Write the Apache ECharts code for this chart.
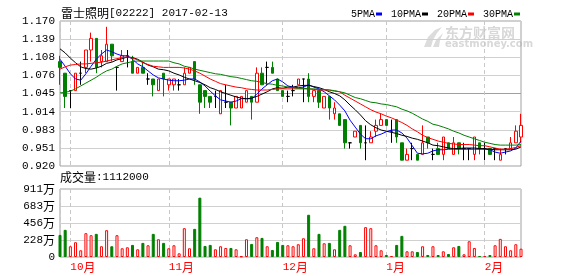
<!DOCTYPE html>
<html><head><meta charset="utf-8">
<script src="https://cdn.jsdelivr.net/npm/echarts@6/dist/echarts.min.js"></script>
<style>html,body{margin:0;padding:0;background:#fff}#c{width:578px;height:276px}</style>
</head><body><div id="c"></div>
<script>
const stockName = '雷士照明';
const stockCode = '[02222]';
const titleDate = '2017-02-13';
const volumeTitle = '成交量';

const dates = ['09-29','09-30',
 '10-03','10-04','10-05','10-06','10-07','10-11','10-12','10-13','10-14','10-17','10-18','10-19','10-20','10-24','10-25','10-26','10-27','10-28','10-31',
 '11-01','11-02','11-03','11-04','11-07','11-08','11-09','11-10','11-11','11-14','11-15','11-16','11-17','11-18','11-21','11-22','11-23','11-24','11-25','11-28','11-29','11-30',
 '12-01','12-02','12-05','12-06','12-07','12-08','12-09','12-12','12-13','12-14','12-15','12-16','12-19','12-20','12-21','12-22','12-23','12-28','12-29','12-30',
 '01-03','01-04','01-05','01-06','01-09','01-10','01-11','01-12','01-13','01-16','01-17','01-18','01-19','01-20','01-23','01-24','01-25','01-26','01-27',
 '02-01','02-02','02-03','02-06','02-07','02-08','02-09','02-10'];

const open = [1.10,1.08,1.05,1.05,1.08,1.09,1.12,1.14,1.10,1.10,
 1.13,1.09,1.10,1.11,1.10,1.08,1.09,1.07,1.07,1.05,
 1.08,1.06,1.06,1.06,1.06,1.08,1.10,1.06,1.05,1.04,
 1.04,1.01,1.03,1.03,1.02,1.02,1.03,1.04,1.03,1.08,
 1.09,1.09,1.07,1.05,1.04,1.05,1.06,1.07,1.07,1.04,
 1.05,1.02,1.04,1.01,1.01,1.00,0.96,0.97,0.99,0.96,
 0.96,0.98,0.99,1.00,0.98,1.00,0.96,0.93,0.95,0.94,
 0.94,0.97,0.94,0.95,0.94,0.96,0.94,0.96,0.95,0.95,
 0.94,0.96,0.95,0.95,0.95,0.93,0.95,0.95,0.96,0.97];
const close = [1.09,1.04,1.05,1.08,1.08,1.12,1.14,1.09,1.11,1.13,
 1.11,1.09,1.11,1.11,1.08,1.09,1.08,1.07,1.06,1.07,
 1.07,1.07,1.07,1.06,1.08,1.09,1.07,1.03,1.04,1.03,
 1.04,1.05,1.03,1.02,1.04,1.04,1.05,1.03,1.08,1.06,
 1.09,1.08,1.05,1.04,1.04,1.05,1.07,1.07,1.04,1.05,
 1.03,1.04,1.02,1.02,0.99,0.96,0.96,0.98,0.96,0.96,
 0.97,0.99,1.00,0.99,0.98,0.97,0.93,0.94,0.95,0.93,
 0.96,0.96,0.94,0.94,0.97,0.95,0.96,0.95,0.95,0.95,
 0.97,0.95,0.95,0.94,0.95,0.94,0.95,0.96,0.98,0.99];
const low = [1.06,1.02,1.02,1.05,1.06,1.08,1.10,1.08,1.09,1.10,
 1.10,1.05,1.10,1.09,1.08,1.08,1.08,1.06,1.04,1.05,
 1.04,1.05,1.05,1.05,1.06,1.08,1.06,1.01,1.02,1.02,
 1.02,1.01,1.02,0.99,1.02,1.02,1.03,1.00,1.03,1.06,
 1.06,1.08,1.05,1.04,1.03,1.04,1.06,1.03,1.03,1.03,
 1.02,1.02,1.00,1.00,0.99,0.95,0.95,0.97,0.95,0.93,
 0.96,0.97,0.99,0.99,0.96,0.96,0.93,0.93,0.93,0.93,
 0.94,0.95,0.93,0.94,0.93,0.95,0.94,0.94,0.93,0.93,
 0.93,0.94,0.93,0.94,0.93,0.93,0.94,0.95,0.96,0.96];
const high = [1.11,1.08,1.05,1.08,1.10,1.12,1.15,1.14,1.12,1.16,
 1.13,1.09,1.12,1.12,1.11,1.09,1.10,1.08,1.07,1.07,
 1.08,1.07,1.07,1.07,1.09,1.09,1.10,1.06,1.05,1.04,
 1.05,1.05,1.06,1.03,1.04,1.04,1.05,1.04,1.09,1.09,
 1.10,1.10,1.07,1.05,1.05,1.06,1.07,1.07,1.08,1.05,
 1.05,1.04,1.04,1.03,1.01,1.00,0.96,0.98,0.99,0.99,
 0.98,1.00,1.01,1.00,1.00,1.00,0.96,0.95,0.96,0.94,
 0.99,0.97,0.95,0.96,0.97,0.96,0.97,0.96,0.96,0.95,
 0.97,0.96,0.96,0.95,0.95,0.95,0.95,0.97,0.99,1.01];

// volume in 万股
const volume = [296,364,144,198,90,319,292,310,144,359,
 144,292,117,130,162,103,189,157,310,238,
 189,117,157,49,386,117,377,795,148,162,
 103,144,121,121,103,9,238,175,265,256,
 144,94,202,162,157,144,171,251,566,117,
 310,184,189,103,364,418,157,36,67,400,
 386,157,90,27,13,162,283,76,76,67,
 144,27,144,27,76,40,130,148,36,211,
 121,13,13,27,157,243,144,90,171,111.2];

const ma5 = [1.104,1.092,1.079,1.070,1.068,1.079,1.092,1.104,1.113,1.120,
 1.117,1.113,1.110,1.110,1.104,1.096,1.091,1.084,1.077,1.072,
 1.070,1.068,1.067,1.067,1.068,1.070,1.070,1.065,1.058,1.049,
 1.041,1.034,1.032,1.030,1.032,1.036,1.036,1.036,1.044,1.053,
 1.060,1.067,1.070,1.065,1.058,1.056,1.055,1.056,1.060,1.056,
 1.053,1.048,1.041,1.034,1.025,1.015,0.999,0.987,0.975,0.967,
 0.967,0.972,0.975,0.979,0.982,0.982,0.977,0.968,0.955,0.942,
 0.941,0.942,0.946,0.948,0.948,0.949,0.949,0.949,0.949,0.949,
 0.949,0.949,0.949,0.948,0.944,0.942,0.944,0.946,0.951,0.963];
const ma10 = [1.122,1.115,1.106,1.098,1.091,1.088,1.087,1.089,1.092,1.097,
 1.099,1.103,1.105,1.108,1.107,1.104,1.099,1.094,1.091,1.087,
 1.086,1.084,1.080,1.077,1.073,1.070,1.067,1.064,1.060,1.055,
 1.052,1.048,1.045,1.042,1.039,1.037,1.036,1.037,1.040,1.044,
 1.048,1.053,1.055,1.054,1.056,1.056,1.058,1.059,1.059,1.057,
 1.055,1.052,1.048,1.045,1.041,1.034,1.025,1.017,1.008,0.998,
 0.991,0.986,0.982,0.980,0.978,0.976,0.973,0.971,0.968,0.966,
 0.963,0.960,0.956,0.955,0.953,0.951,0.950,0.950,0.951,0.951,
 0.951,0.950,0.950,0.949,0.948,0.948,0.948,0.948,0.949,0.953];
const ma20 = [1.087,1.091,1.094,1.095,1.096,1.096,1.097,1.098,1.099,1.101,
 1.103,1.105,1.107,1.108,1.106,1.103,1.098,1.095,1.092,1.091,
 1.090,1.090,1.090,1.090,1.089,1.087,1.084,1.080,1.075,1.070,
 1.066,1.062,1.060,1.058,1.056,1.055,1.053,1.052,1.051,1.051,
 1.051,1.052,1.053,1.053,1.053,1.053,1.053,1.053,1.053,1.052,
 1.051,1.051,1.051,1.049,1.048,1.042,1.037,1.032,1.027,1.022,
 1.017,1.013,1.010,1.006,1.003,0.999,0.995,0.990,0.984,0.979,
 0.973,0.969,0.966,0.963,0.961,0.959,0.958,0.957,0.957,0.957,
 0.956,0.955,0.955,0.953,0.951,0.949,0.949,0.950,0.952,0.955];
const ma30 = [1.046,1.047,1.049,1.053,1.058,1.063,1.068,1.073,1.079,1.084,
 1.087,1.092,1.096,1.098,1.100,1.101,1.101,1.101,1.101,1.101,
 1.101,1.101,1.098,1.096,1.092,1.090,1.087,1.085,1.083,1.081,
 1.079,1.078,1.076,1.074,1.073,1.071,1.069,1.067,1.066,1.064,
 1.062,1.061,1.059,1.058,1.056,1.055,1.054,1.054,1.053,1.053,
 1.052,1.052,1.051,1.050,1.048,1.046,1.042,1.038,1.036,1.033,
 1.030,1.029,1.027,1.026,1.024,1.022,1.018,1.015,1.011,1.006,
 1.001,0.997,0.992,0.990,0.987,0.984,0.980,0.977,0.973,0.970,
 0.967,0.964,0.961,0.959,0.957,0.956,0.956,0.956,0.956,0.957];

const priceTicks = ['0.920','0.951','0.983','1.014','1.045','1.076','1.108','1.139','1.170'];
const priceMin = 0.92, priceMax = 1.17;
const volTicks = ['0','228万','456万','683万','911万'];
const volMax = 911;
const maNames = ['5PMA','10PMA','20PMA','30PMA'];
const maColors = ['#0000ff','#000000','#ff0000','#008000'];
const maData = [ma5, ma10, ma20, ma30];

const RED = '#ff0000', GREEN = '#008000', BLACK = '#000000';
const MONO = "'Liberation Mono', 'DejaVu Sans Mono', monospace";
const CJK = "'Noto Sans CJK SC', sans-serif";

const candleData = dates.map((d, i) => {
  const item = { value: [open[i], close[i], low[i], high[i]] };
  if (open[i] === close[i]) {
    item.itemStyle = { color: BLACK, color0: BLACK, borderColor: BLACK, borderColor0: BLACK, borderColorDoji: BLACK };
  }
  return item;
});
const volData = volume.map((v, i) => ({
  value: v,
  itemStyle: close[i] >= open[i]
    ? { color: '#ffffff', borderColor: RED, borderWidth: 1 }
    : { color: GREEN, borderColor: GREEN, borderWidth: 1 }
}));

const isMonthStart = i => i > 0 && dates[i].slice(0, 2) !== dates[i - 1].slice(0, 2);
const isSplit = i => i === 0 || isMonthStart(i);

const priceSplitColors = priceTicks.map((t, i) => i === 4 ? '#a0a0a0' : '#d0d0d0');

// legend graphic
const legendEls = [];
(function () {
  let x = 520;
  for (let k = maNames.length - 1; k >= 0; k--) {
    const rx = x - 6;
    legendEls.push({ type: 'rect', shape: { x: rx, y: 12.5, width: 6, height: 3 }, style: { fill: maColors[k] }, silent: true });
    legendEls.push({ type: 'text', x: rx - 1, y: 14, style: { text: maNames[k], font: '10px ' + MONO, fill: '#000', align: 'right', verticalAlign: 'middle' }, silent: true });
    x = rx - 1 - maNames[k].length * 6 - 9;
  }
})();

const lastVol = Math.round(volume[volume.length - 1] * 10000);

const option = {
  animation: false,
  backgroundColor: '#ffffff',
  grid: [
    { left: 60, right: 57, top: 21, height: 145, show: true, borderColor: '#a0a0a0', borderWidth: 1, backgroundColor: 'transparent' },
    { left: 60, right: 57, top: 189, height: 68, show: true, borderColor: '#a0a0a0', borderWidth: 1, backgroundColor: 'transparent' }
  ],
  xAxis: [
    { type: 'category', gridIndex: 0, data: dates, boundaryGap: false,
      axisLine: { show: false }, axisTick: { show: false }, axisLabel: { show: false },
      splitLine: { show: true, interval: (i) => isSplit(i), lineStyle: { color: '#c8c8c8', width: 1, type: [4, 3] } } },
    { type: 'category', gridIndex: 1, data: dates, boundaryGap: false,
      axisLine: { show: false }, axisTick: { show: false },
      axisLabel: { show: true, interval: (i) => isMonthStart(i), align: 'left', margin: 4,
        formatter: (v) => '{d|' + Number(v.slice(0, 2)) + '}{c|月}',
        rich: { d: { fontFamily: MONO, fontSize: 11, color: RED }, c: { fontFamily: CJK, fontSize: 12, color: RED } } },
      splitLine: { show: true, interval: (i) => isSplit(i), lineStyle: { color: '#c8c8c8', width: 1, type: [4, 3] } } }
  ],
  yAxis: [
    { type: 'value', gridIndex: 0, min: priceMin, max: priceMax, show: false, scale: true, position: 'right' },
    { type: 'value', gridIndex: 0, min: 0, max: priceTicks.length - 1, interval: 1, position: 'left',
      axisLine: { show: false }, axisTick: { show: false },
      axisLabel: { margin: 5, color: '#000', fontFamily: MONO, fontSize: 11, formatter: (v) => priceTicks[Math.round(v)] },
      splitLine: { show: true, lineStyle: { color: priceSplitColors, width: 1 } } },
    { type: 'value', gridIndex: 1, min: 0, max: volMax, interval: volMax / (volTicks.length - 1), position: 'left',
      axisLine: { show: false }, axisTick: { show: false },
      axisLabel: { margin: 5, formatter: (v) => {
          const t = volTicks[Math.round(v / (volMax / (volTicks.length - 1)))];
          return t.endsWith('万') ? '{d|' + t.slice(0, -1) + '}{c|万}' : '{d|' + t + '}';
        },
        rich: { d: { fontFamily: MONO, fontSize: 11, color: '#000' }, c: { fontFamily: CJK, fontSize: 12, color: '#000' } } },
      splitLine: { show: true, lineStyle: { color: '#d0d0d0', width: 1 } } }
  ],
  series: [
    { type: 'candlestick', name: 'K', xAxisIndex: 0, yAxisIndex: 0, data: candleData, barWidth: 3, clip: false,
      itemStyle: { color: '#ffffff', color0: GREEN, borderColor: RED, borderColor0: GREEN, borderColorDoji: BLACK, borderWidth: 1 },
      emphasis: { disabled: true }, z: 2 },
    ...maData.map((d, k) => ({
      type: 'line', name: maNames[k], xAxisIndex: 0, yAxisIndex: 0, data: d,
      symbol: 'none', showSymbol: false, smooth: false,
      lineStyle: { color: maColors[k], width: 1 }, itemStyle: { color: maColors[k] },
      emphasis: { disabled: true }, z: 3
    })),
    { type: 'bar', name: 'VOL', xAxisIndex: 1, yAxisIndex: 2, data: volData, barWidth: 3, clip: false,
      emphasis: { disabled: true }, z: 2 }
  ],
  graphic: [
    { type: 'text', x: 61, y: 13, silent: true,
      style: { text: '{a|' + stockName + '}{b|' + stockCode + ' ' + titleDate + '}', verticalAlign: 'middle',
        rich: { a: { fontFamily: CJK, fontSize: 12, fill: '#000', color: '#000' }, b: { fontFamily: MONO, fontSize: 11, fill: '#000', color: '#000' } } } },
    { type: 'text', x: 60, y: 177, silent: true,
      style: { text: '{a|' + volumeTitle + '}{b|:' + lastVol + '}', verticalAlign: 'middle',
        rich: { a: { fontFamily: CJK, fontSize: 12, fill: '#000', color: '#000' }, b: { fontFamily: MONO, fontSize: 11, fill: '#000', color: '#000' } } } },
    // watermark
    { type: 'polygon', silent: true, z: -1, shape: { points: [[424,47],[428,37],[435,30],[442,27],[437,33],[433,40],[431,47]] }, style: { fill: '#dcdcdc' } },
    { type: 'polygon', silent: true, z: -1, shape: { points: [[433,47],[436,40],[443,33],[440,40],[439,47]] }, style: { fill: '#dcdcdc' } },
    { type: 'text', x: 445, y: 33, silent: true, z: -1,
      style: { text: '东方财富网', font: 'bold 14px ' + CJK, fill: '#d8d8d8', verticalAlign: 'middle' } },
    { type: 'text', x: 445, y: 44, silent: true, z: -1,
      style: { text: 'eastmoney.com', font: 'bold 10px ' + "'DejaVu Sans', sans-serif", fill: '#d8d8d8', verticalAlign: 'middle' } },
    ...legendEls
  ]
};

const chart = echarts.init(document.getElementById('c'), null, { renderer: 'canvas' });
chart.setOption(option);
</script>
</body></html>
